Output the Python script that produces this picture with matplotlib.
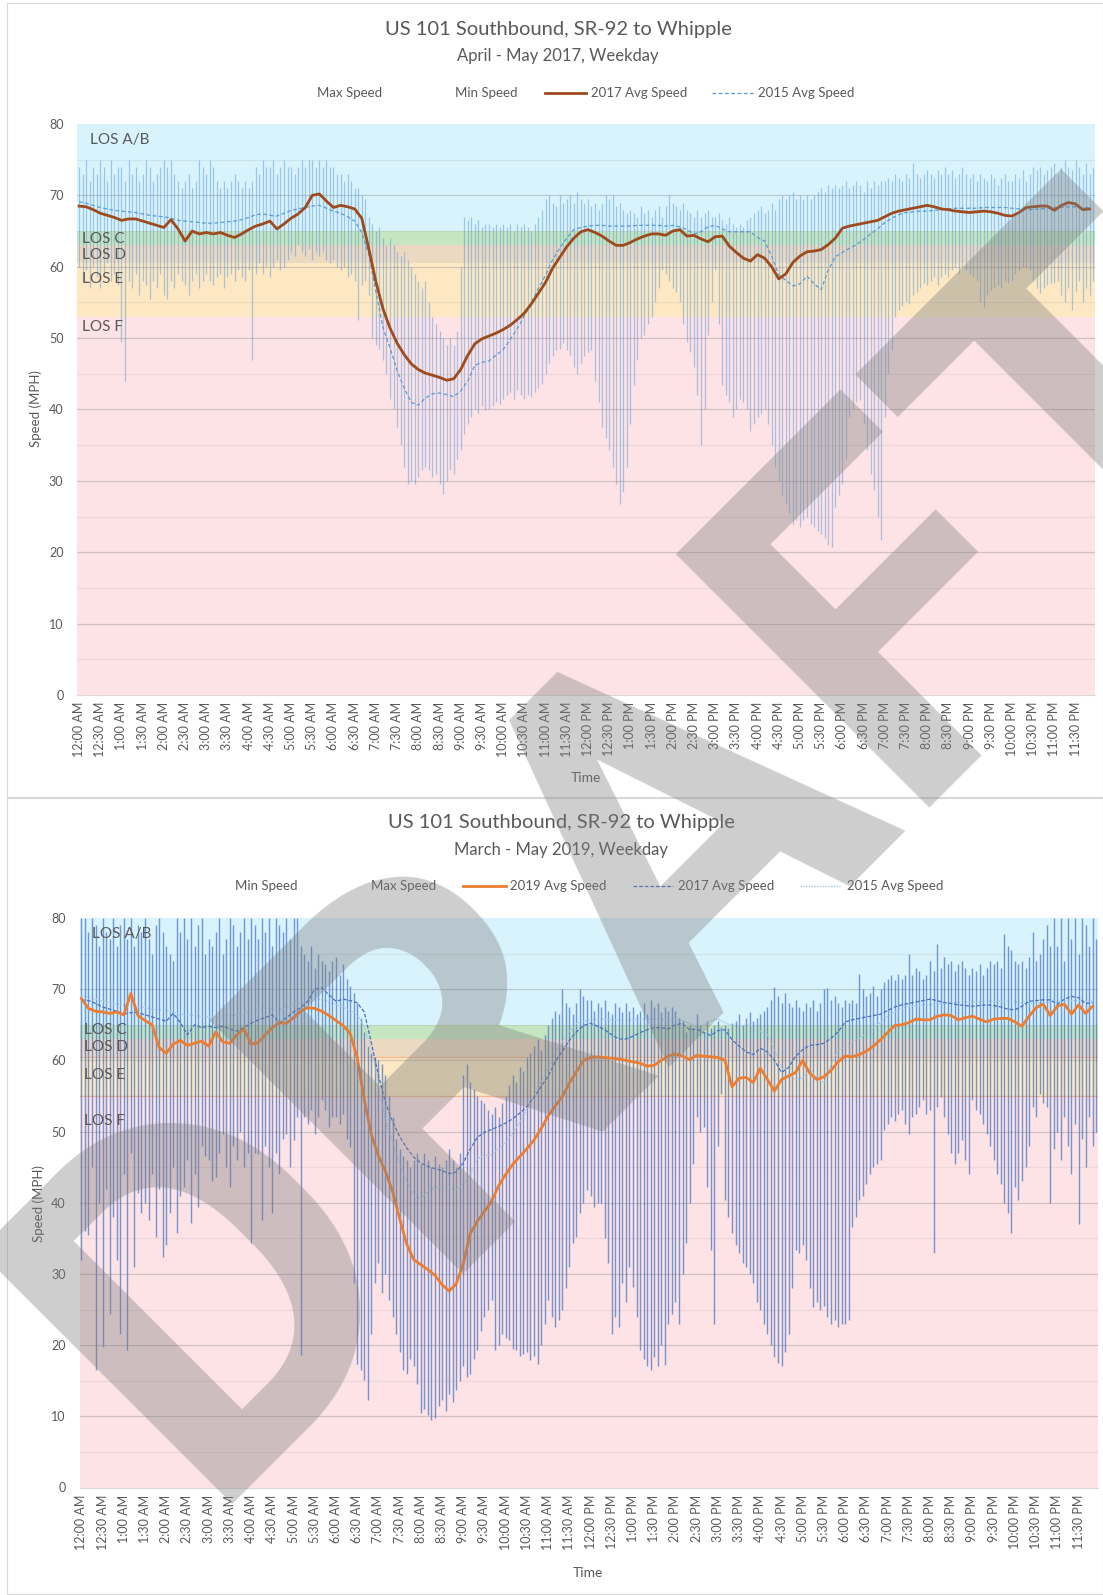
import numpy as np
import matplotlib.pyplot as plt
from matplotlib.lines import Line2D
from matplotlib.patches import Rectangle

plt.rcParams['font.family'] = ['Lato', 'DejaVu Sans']

W, H = 1103, 1595

# category axis: one slot per 5 minutes, labels every 30 minutes
time_labels = [
    '12:00 AM', '12:30 AM', '1:00 AM', '1:30 AM', '2:00 AM', '2:30 AM',
    '3:00 AM', '3:30 AM', '4:00 AM', '4:30 AM', '5:00 AM', '5:30 AM',
    '6:00 AM', '6:30 AM', '7:00 AM', '7:30 AM', '8:00 AM', '8:30 AM',
    '9:00 AM', '9:30 AM', '10:00 AM', '10:30 AM', '11:00 AM', '11:30 AM',
    '12:00 PM', '12:30 PM', '1:00 PM', '1:30 PM', '2:00 PM', '2:30 PM',
    '3:00 PM', '3:30 PM', '4:00 PM', '4:30 PM', '5:00 PM', '5:30 PM',
    '6:00 PM', '6:30 PM', '7:00 PM', '7:30 PM', '8:00 PM', '8:30 PM',
    '9:00 PM', '9:30 PM', '10:00 PM', '10:30 PM', '11:00 PM', '11:30 PM',
]

los_names = ['LOS A/B', 'LOS C', 'LOS D', 'LOS E', 'LOS F']
los_colors = ['#d9f3fc', '#c6e6c1', '#ecd9c2', '#fde8c3', '#fde3e6']
los_bounds_2017 = [80, 65, 63, 60.5, 53, 0]
los_bounds_2019 = [80, 65, 63, 60.5, 55, 0]

# 2017 chart, 5-minute max / min speeds (one row per hour)
max_2017 = [
    74, 73, 75, 72, 74, 73, 75, 74, 72, 75, 73, 74,
    74, 72, 75, 73, 74, 72, 73, 75, 74, 72, 73, 74,
    75, 74, 75, 73, 72, 71, 72, 73, 71, 72, 75, 74,
    73, 75, 74, 72, 71, 72, 71, 72, 73, 72, 71, 72,
    71, 72, 74, 73, 75, 74, 74, 75, 73, 74, 75, 74,
    74, 73, 74, 75, 74, 75, 75, 74, 75, 74, 75, 74,
    74, 73, 73, 72, 73, 72, 71, 71, 70, 69.5, 67, 66,
    65, 65.5, 64, 63, 64, 63, 62, 61.5, 62, 61, 60, 59,
    58, 57, 58, 55, 53, 52, 51, 50, 49, 50, 49, 51,
    60, 67, 66.5, 67, 66, 66.5, 65.5, 66, 66, 65.5, 66, 65.5,
    66, 65.5, 66, 65, 66, 65.5, 66, 65.5, 65, 66, 67, 68,
    69.5, 70, 69, 68.5, 70, 69, 69.5, 70, 69, 70.5, 69.5, 69,
    69.5, 68.5, 69, 68, 69, 70, 69.5, 70, 68.5, 69, 68, 67.5,
    68, 67.5, 67, 68.5, 67.5, 68, 67, 68, 68.5, 67, 68.5, 70,
    69, 68.5, 68, 69, 68, 67.5, 67, 68, 67, 67.5, 68, 67,
    67, 67.5, 66.5, 66, 67, 66, 65.5, 66, 65.5, 66.5, 67, 67.5,
    68, 68.5, 67.5, 68, 69, 68, 69.5, 70, 69.5, 70, 70.5, 69.5,
    70, 69.5, 70, 69.5, 70, 70.5, 71, 70.5, 71.5, 71, 71.5, 71,
    71.5, 72, 71, 71.5, 72, 71.5, 70.5, 72, 71, 72, 71.5, 72,
    72, 72.5, 72, 73, 72.5, 72, 73, 72.5, 74.5, 73, 72.5, 73,
    73.5, 73, 72.5, 73.5, 73, 74, 73, 73.5, 72.5, 73, 74, 73,
    72.5, 73, 72, 73, 72.5, 72, 73, 72.5, 71.5, 72.5, 73, 72,
    72, 73, 72.5, 73.5, 72, 73, 74, 73.5, 74, 73, 73.5, 74,
    74.5, 73, 74, 75, 74, 73.5, 75, 74, 73, 74.5, 73, 74,
]
min_2017 = [
    60, 58, 59.5, 57, 60, 58.5, 57, 59, 60.5, 58, 59, 57.5,
    49.5, 44, 58, 57, 59, 56, 58, 57.5, 55.5, 58, 57, 59,
    56, 55.5, 58, 57, 59, 58, 57.5, 56, 58, 59, 57, 58,
    59, 58, 57.5, 58.5, 59, 57, 58.5, 59, 58, 59.5, 58.5, 58,
    59.5, 47, 59, 60.5, 59, 60, 58.5, 60, 61, 59.5, 60, 61,
    62, 61.5, 63, 62, 61.5, 62.5, 61, 62, 61.5, 62, 61, 60.5,
    61, 60, 59.5, 60, 58.5, 59, 58, 52.5, 57.5, 58, 56, 50,
    49, 48.5, 47, 45, 41.5, 40, 37.5, 35, 32, 29.6, 30, 29.6,
    30.5, 31.5, 32, 31.5, 30.5, 31, 29.5, 28.2, 30, 31.5, 31, 33,
    34.3, 36.5, 38, 39, 40, 39.5, 40.5, 39.9, 40, 40.5, 41, 40.8,
    41.5, 42, 42.5, 41.5, 42.7, 42, 41.5, 42, 41.8, 42.5, 43, 43.6,
    45, 46.5, 47.5, 48.3, 48.5, 49.3, 48.3, 47.5, 46, 45, 46.5, 47.5,
    48, 48.3, 44, 41, 37.6, 36, 34.3, 32, 29.6, 26.8, 28.5, 32,
    38, 43.5, 47, 50, 50.5, 52, 53, 55, 57, 59.5, 59, 58,
    57, 56.5, 55, 52, 49.5, 48, 46, 42, 35, 40, 50.5, 55,
    59.5, 52, 43.5, 42, 41, 39, 40, 41.5, 41, 40, 37, 38,
    39, 39.5, 40, 38, 35, 32, 30, 28, 26.8, 25.5, 24, 24.5,
    23.6, 24.5, 25, 24, 23.6, 23, 22.5, 22, 21, 20.8, 26.4, 28,
    29.6, 33, 39, 40, 41, 41.3, 38, 34.3, 31, 28.7, 25, 21.7,
    39, 45, 48.3, 53, 53.9, 54.5, 55, 54.8, 56, 56.5, 57, 57.7,
    57.5, 58, 58.5, 57.5, 58.6, 59, 58.5, 59.5, 60, 59, 60, 59.5,
    59, 58.6, 58, 55, 54.4, 56, 56.7, 57, 57.5, 57, 58, 57.7,
    58, 59, 59.5, 60, 60, 59.5, 58, 57, 56.3, 57, 57.5, 57.7,
    57.7, 58, 56, 55, 57, 54, 56.5, 58, 55, 57, 56, 58,
]

# average speeds, one value per 10 minutes (one row per hour)
avg_2017 = [
    68.5, 68.4, 68.0, 67.5, 67.2, 66.9,
    66.5, 66.7, 66.7, 66.4, 66.1, 65.8,
    65.5, 66.6, 65.3, 63.6, 65.0, 64.6,
    64.8, 64.6, 64.8, 64.4, 64.1, 64.6,
    65.2, 65.7, 66.0, 66.4, 65.3, 66.0,
    66.8, 67.4, 68.3, 70.0, 70.2, 69.2,
    68.3, 68.6, 68.4, 68.1, 66.8, 62.5,
    57.9, 54.1, 51.4, 49.3, 47.7, 46.4,
    45.6, 45.1, 44.8, 44.5, 44.1, 44.3,
    45.6, 47.6, 49.2, 49.9, 50.3, 50.7,
    51.2, 51.8, 52.6, 53.5, 54.8, 56.3,
    57.8, 59.8, 61.3, 62.8, 64.0, 64.9,
    65.2, 64.8, 64.3, 63.6, 63.0, 63.0,
    63.4, 63.9, 64.3, 64.6, 64.6, 64.4,
    65.0, 65.2, 64.3, 64.4, 63.9, 63.5,
    64.2, 64.3, 62.9, 62.0, 61.2, 60.8,
    61.7, 61.2, 60.0, 58.3, 59.0, 60.6,
    61.5, 62.1, 62.2, 62.4, 63.1, 64.0,
    65.4, 65.7, 65.9, 66.1, 66.3, 66.5,
    67.0, 67.5, 67.8, 68.0, 68.2, 68.4,
    68.6, 68.4, 68.1, 68.0, 67.8, 67.7,
    67.6, 67.7, 67.8, 67.7, 67.5, 67.2,
    67.1, 67.6, 68.3, 68.4, 68.5, 68.5,
    67.9, 68.6, 69.0, 68.8, 68.0, 68.1,
]
avg_2015 = [
    69.1, 68.9, 68.6, 68.3, 68.1, 67.9,
    67.8, 67.7, 67.6, 67.4, 67.2, 67.1,
    67.0, 66.8, 66.5, 66.4, 66.3, 66.2,
    66.1, 66.1, 66.2, 66.3, 66.4, 66.6,
    66.9, 67.3, 67.4, 67.2, 67.1, 67.5,
    67.9, 68.1, 68.3, 68.5, 68.6, 68.2,
    67.8, 67.5, 67.0, 66.4, 64.8, 61.7,
    56.5, 51.5, 48.6, 45.5, 43.0, 41.0,
    40.6, 41.6, 42.2, 42.3, 42.1, 41.8,
    42.6, 44.0, 46.2, 46.6, 46.8, 47.6,
    48.4, 49.8, 51.3, 53.1, 55.0, 57.0,
    58.8, 61.0, 62.6, 64.0, 65.2, 65.5,
    65.7, 65.8, 65.8, 65.7, 65.7, 65.7,
    65.7, 65.8, 65.8, 65.8, 65.8, 65.7,
    65.8, 65.6, 65.2, 64.6, 64.9, 65.6,
    65.8, 65.3, 64.9, 64.9, 64.9, 64.9,
    64.1, 63.6, 61.5, 58.9, 58.1, 57.3,
    57.6, 58.7, 57.6, 56.8, 59.5, 61.4,
    62.0, 62.6, 63.1, 63.8, 64.6, 65.3,
    66.2, 66.8, 67.3, 67.6, 67.7, 67.8,
    67.8, 67.9, 68.0, 68.1, 68.2, 68.2,
    68.2, 68.2, 68.3, 68.3, 68.3, 68.3,
    68.2, 68.1, 68.0, 68.0, 68.1, 68.2,
    68.3, 68.3, 68.4, 68.4, 68.3, 68.3,
]

# 2019 chart, 5-minute max / min speeds
max_2019 = [
    80, 80, 78, 80, 79, 76, 80, 78, 77, 80, 76, 79,
    80, 77, 80, 76, 79, 78, 80, 77, 75, 79, 80, 78,
    76, 75, 74, 80, 78, 80, 77, 80, 76, 79, 80, 75,
    77, 76, 78, 80, 75, 77, 80, 79, 76, 78, 80, 77,
    80, 79, 77, 80, 78, 80, 76, 80, 79, 78, 80, 77,
    80, 80, 76, 75, 74, 76, 73, 75, 74, 73.5, 72.5, 74,
    74.5, 72, 73.5, 71.5, 70.5, 69.5, 68, 66, 64, 62, 61, 60.5,
    60, 59.5, 58, 55, 52, 49, 47.5, 46.5, 46, 45, 46, 47,
    45.5, 47, 46, 45, 46.5, 45.5, 45, 46, 47.5, 46, 45, 47,
    58, 59.5, 57, 56, 55, 54.5, 54, 53, 52.5, 53.5, 52, 54,
    55, 56.5, 58, 57, 59, 58.5, 60.5, 61, 62, 63, 61.5, 63.5,
    65, 66, 67, 66.5, 70, 68, 67.5, 66.5, 68, 70, 69, 68.5,
    68.5, 67, 68, 67.5, 68.5, 67, 66.5, 68, 67.5, 66.8, 68, 67,
    67.5, 66.5, 67, 68, 66.5, 68.5, 67.5, 68, 66.8, 67.5, 67, 67.5,
    67, 66, 65.5, 64, 65, 64.5, 66.5, 65, 64, 65.5, 64.5, 65,
    65.5, 64.7, 65, 64.5, 65.2, 65.5, 66.5, 65, 66, 66.8, 65.5, 66,
    66.5, 67, 67.5, 68.5, 70.3, 69, 68, 69.5, 68, 67.5, 68.5, 67.5,
    67, 68, 67.5, 68.5, 67, 68, 70, 70.1, 68.5, 69, 68, 67.5,
    68.5, 68, 68.5, 68, 72.2, 70, 69, 69.5, 70.5, 69, 70, 71,
    71.5, 72, 71.3, 72.2, 71.5, 72, 75, 72, 73, 72.5, 71.5, 72,
    74, 72.5, 76.4, 73, 74.5, 73.5, 74, 72.5, 73.5, 74, 73, 72,
    73, 72.5, 73.5, 72, 73, 74, 73.5, 74, 73, 77.8, 76, 75.5,
    74, 73.5, 74, 73, 74.5, 78, 74, 75, 77, 79, 76, 80,
    76, 80, 74, 80, 77, 80, 75, 80, 79, 76, 80, 77,
]
min_2019 = [
    32, 36, 35.5, 45, 16.5, 40, 19.8, 42, 24.4, 38, 31.9, 21.6,
    44, 19.3, 47, 31, 41.3, 38.5, 40, 37.6, 44, 35.2, 42, 32.4,
    34, 38.5, 45, 35.7, 41, 42.2, 46, 37.1, 44, 39.4, 48, 46.5,
    46, 43, 43.6, 47, 49.7, 45, 42.2, 48, 46, 50, 45, 47,
    34.3, 47, 46.9, 37.6, 48, 45, 38.5, 47, 44.1, 49, 49.7, 45,
    48.8, 52, 18.6, 52.1, 51, 53, 49.7, 52, 54.4, 53, 50.7, 52,
    52.1, 51, 52.5, 49, 47.9, 28.7, 17.4, 16.5, 15.1, 12.3, 21.6, 28.7,
    31.5, 27.3, 30, 26.3, 24, 21.6, 19, 16.5, 16, 18, 17, 14.6,
    10.4, 11, 10.2, 9.5, 9.7, 11.5, 12.3, 10.8, 13.2, 12, 13.7, 15,
    17, 15.5, 16, 18, 19.3, 22, 24, 25, 26.3, 19.3, 20, 21.6,
    21, 20.7, 19.5, 19.3, 18.5, 18.8, 19, 17.9, 18.5, 17.4, 20, 23,
    26.3, 24, 22.6, 23.5, 24.9, 28, 31, 34.3, 35.2, 38.5, 39.9, 41.8,
    41, 39.4, 40, 39.9, 35, 31.5, 21.6, 24, 22.6, 28.7, 26, 31,
    28.2, 24, 19.3, 18, 17, 16.5, 18.4, 17, 20, 17.2, 23, 24.4,
    26, 23, 30, 34.3, 40, 45.5, 52.1, 50, 50.7, 42.2, 33.3, 23,
    48, 55.3, 40.4, 38, 35.7, 34, 32.9, 31.5, 31, 30, 28.7, 26,
    24.9, 23, 21.6, 20, 18.4, 17.5, 17, 19, 21.6, 28, 33.3, 32.9,
    34, 32, 28, 25.4, 26, 24.9, 25.5, 24, 23, 23.5, 22.6, 23,
    23, 23.5, 36.6, 38, 40.4, 41, 42.7, 44, 45, 45.5, 46, 50.2,
    51, 52.1, 51.5, 52.5, 53, 51, 49.7, 52, 52.5, 53.5, 54.4, 52.5,
    53, 32.9, 53.5, 54.8, 52, 49.7, 47, 45.5, 47, 48.8, 46, 44.1,
    54.4, 53, 52.5, 51, 49.7, 48, 46, 44, 42.7, 40, 38.5, 35.7,
    42.2, 40.4, 43, 45, 48, 53.5, 52, 55.3, 54, 53.5, 39.9, 47.5,
    50, 46, 52, 48, 44, 51, 37, 49, 45, 52, 48, 50,
]
avg_2019 = [
    68.7, 67.3, 66.9, 66.8, 66.6, 66.8,
    66.4, 69.4, 66.3, 65.6, 65.0, 61.8,
    61.0, 62.3, 62.8, 62.1, 62.4, 62.7,
    62.0, 64.0, 62.6, 62.4, 63.6, 64.4,
    62.3, 62.5, 63.6, 64.6, 65.3, 65.2,
    66.0, 66.9, 67.4, 67.3, 66.9, 66.3,
    65.6, 64.9, 63.8, 60.4, 54.5, 49.6,
    46.6, 44.4, 41.6, 37.8, 34.2, 32.0,
    31.3, 30.6, 29.8, 28.5, 27.6, 28.6,
    31.5, 35.7, 37.4, 38.8, 40.2, 42.4,
    44.0, 45.4, 46.5, 47.6, 48.8, 50.4,
    52.2, 53.6, 54.9, 56.8, 58.4, 60.0,
    60.4, 60.5, 60.4, 60.3, 60.2, 60.0,
    59.8, 59.6, 59.2, 59.3, 60.0, 60.6,
    60.9, 60.6, 60.1, 60.7, 60.6, 60.5,
    60.4, 60.0, 56.3, 57.5, 57.6, 56.9,
    58.9, 57.3, 55.7, 57.3, 57.8, 58.3,
    60.0, 58.2, 57.3, 57.7, 58.6, 59.8,
    60.6, 60.5, 60.8, 61.3, 62.0, 62.9,
    63.9, 64.9, 65.0, 65.3, 65.8, 65.7,
    65.7, 66.2, 66.4, 66.3, 65.7, 66.0,
    66.2, 65.8, 65.4, 65.8, 65.9, 65.9,
    65.4, 64.8, 66.2, 67.4, 67.9, 66.3,
    67.6, 67.9, 66.5, 67.8, 66.6, 67.6,
]

x5 = np.arange(len(max_2017))
x10 = np.arange(0, len(max_2017), 2)
text_grey = '#595959'


def fx(px):
    return px / W


def fy(py):
    return 1 - py / H


def draw_panel(ax, vmin, vmax, bounds, label_vals, bar_color, bar_alpha, bar_lw):
    for k in range(len(los_names)):
        ax.axhspan(bounds[k + 1], bounds[k], color=los_colors[k], lw=0, zorder=0)
    for v in range(5, 80, 5):
        ax.axhline(v, color='#7f7f7f', lw=0.9, alpha=0.35 if v % 10 == 0 else 0.13, zorder=1)
    ax.vlines(x5, vmin, vmax, color=bar_color, alpha=bar_alpha, lw=bar_lw, zorder=2)
    for k, name in enumerate(los_names):
        ax.text(3.0 if k == 0 else 0.8, label_vals[k], name, fontsize=11,
                color=text_grey, va='center', ha='left', zorder=4)
    ax.set_xlim(-0.5, len(x5) - 0.5)
    ax.set_ylim(0, 80)
    ax.set_yticks(range(0, 81, 10))
    ax.set_xticks(np.arange(0, len(x5), 6))
    ax.set_xticklabels(time_labels, rotation=90)
    ax.tick_params(axis='both', length=0, labelsize=9, colors=text_grey)
    ax.tick_params(axis='x', pad=5)
    ax.tick_params(axis='y', pad=10)
    for s in ['top', 'left', 'right']:
        ax.spines[s].set_visible(False)
    ax.spines['bottom'].set_color('#d9d9d9')


fig = plt.figure(figsize=(W / 100, H / 100), dpi=100)

# chart frames
fig.add_artist(Rectangle((fx(7), fy(797)), fx(1096), (797 - 3) / H, transform=fig.transFigure,
                         fill=False, ec='#d9d9d9', lw=0.8))
fig.add_artist(Rectangle((fx(7), fy(1594)), fx(1096), (1594 - 798) / H, transform=fig.transFigure,
                         fill=False, ec='#d9d9d9', lw=0.8))

# ---- top chart (2017)
ax1 = fig.add_axes([fx(77.3), fy(695), fx(1095 - 77.3), 571 / H])
draw_panel(ax1, min_2017, max_2017, los_bounds_2017, [77.7, 63.9, 61.7, 58.3, 51.6],
           '#5b9bd5', 0.5, 0.9)
ax1.plot(x10, avg_2015, color='#5b9bd5', lw=0.9, ls=(0, (3, 2)), zorder=3)
ax1.plot(x10, avg_2017, color='#9e4a1c', lw=2.0, zorder=3)

fig.text(fx(558), fy(30), 'US 101 Southbound, SR-92 to Whipple', fontsize=14.5,
         color=text_grey, ha='center', va='center')
fig.text(fx(558), fy(56), 'April - May 2017, Weekday', fontsize=12,
         color=text_grey, ha='center', va='center')
fig.text(fx(36), fy(409), 'Speed (MPH)', rotation=90, fontsize=9.5, color=text_grey,
         ha='center', va='center')
fig.text(fx(586), fy(778), 'Time', fontsize=10, color=text_grey, ha='center', va='center')

ly = fy(92.6)
fig.text(fx(349.5), ly, 'Max Speed', fontsize=9.5, color=text_grey, ha='center', va='center')
fig.text(fx(486), ly, 'Min Speed', fontsize=9.5, color=text_grey, ha='center', va='center')
fig.add_artist(Line2D([fx(545), fx(586)], [ly, ly], color='#9e4a1c', lw=2.0))
fig.text(fx(591), ly, '2017 Avg Speed', fontsize=9.5, color=text_grey, ha='left', va='center')
fig.add_artist(Line2D([fx(712), fx(753)], [ly, ly], color='#5b9bd5', lw=0.9, ls=(0, (3, 2))))
fig.text(fx(758), ly, '2015 Avg Speed', fontsize=9.5, color=text_grey, ha='left', va='center')

# ---- bottom chart (2019)
ax2 = fig.add_axes([fx(79.6), fy(1487.5), fx(1098 - 79.6), 569.5 / H])
draw_panel(ax2, min_2019, max_2019, los_bounds_2019, [77.7, 64.2, 61.9, 57.9, 51.5],
           '#4472c4', 0.72, 1.0)
for v in (60.5, 55):
    ax2.axhline(v, color='#f4b183', lw=0.9, alpha=0.8, zorder=1)
ax2.plot(x10, avg_2015, color='#9dc3e6', lw=0.9, ls=(0, (1, 1)), zorder=3)
ax2.plot(x10, avg_2017, color='#4472c4', lw=0.9, ls=(0, (3, 1.5)), zorder=3)
ax2.plot(x10, avg_2019, color='#ed7d31', lw=2.0, zorder=3)

fig.text(fx(561), fy(823), 'US 101 Southbound, SR-92 to Whipple', fontsize=14.5,
         color=text_grey, ha='center', va='center')
fig.text(fx(561), fy(850), 'March - May 2019, Weekday', fontsize=12,
         color=text_grey, ha='center', va='center')
fig.text(fx(39), fy(1204), 'Speed (MPH)', rotation=90, fontsize=9.5, color=text_grey,
         ha='center', va='center')
fig.text(fx(588), fy(1573), 'Time', fontsize=10, color=text_grey, ha='center', va='center')

ly = fy(886)
fig.text(fx(266.5), ly, 'Min Speed', fontsize=9.5, color=text_grey, ha='center', va='center')
fig.text(fx(404), ly, 'Max Speed', fontsize=9.5, color=text_grey, ha='center', va='center')
fig.add_artist(Line2D([fx(463), fx(506)], [ly, ly], color='#ed7d31', lw=2.0))
fig.text(fx(510), ly, '2019 Avg Speed', fontsize=9.5, color=text_grey, ha='left', va='center')
fig.add_artist(Line2D([fx(633), fx(673)], [ly, ly], color='#4472c4', lw=0.9, ls=(0, (3, 1.5))))
fig.text(fx(678), ly, '2017 Avg Speed', fontsize=9.5, color=text_grey, ha='left', va='center')
fig.add_artist(Line2D([fx(800), fx(840)], [ly, ly], color='#9dc3e6', lw=1.0, ls=(0, (1, 1))))
fig.text(fx(847), ly, '2015 Avg Speed', fontsize=9.5, color=text_grey, ha='left', va='center')

# watermark
fig.text(fx(201), fy(1505), 'DRAFT', rotation=45, rotation_mode='anchor', ha='left',
         va='baseline', fontsize=362, fontweight='bold', family='Roboto',
         color='#7f7f7f', alpha=0.38, zorder=10)

fig.savefig('out.png', dpi=100)
